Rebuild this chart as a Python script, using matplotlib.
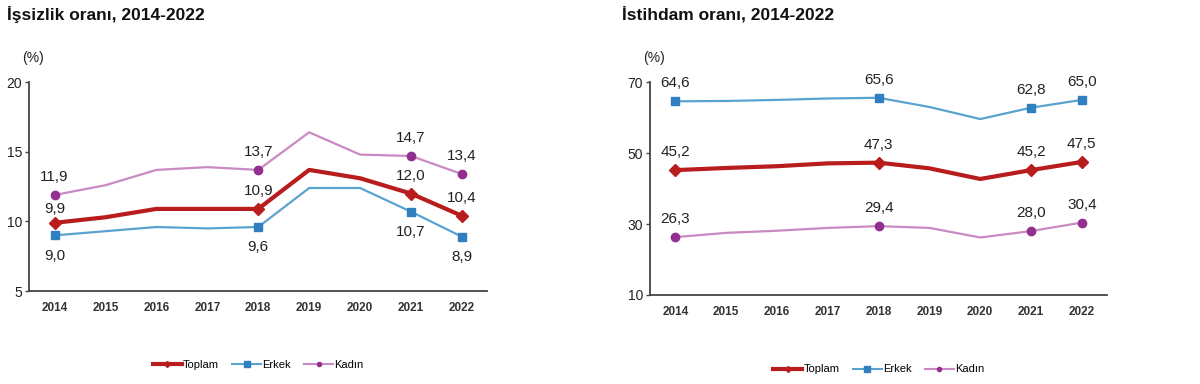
import numpy as np
import matplotlib
matplotlib.use("Agg")
import matplotlib.pyplot as plt

plt.rcParams['font.family'] = ['Liberation Sans', 'DejaVu Sans']

years = ['2014', '2015', '2016', '2017', '2018', '2019', '2020', '2021', '2022']

# Issizlik orani (%)
u_toplam = [9.9, 10.3, 10.9, 10.9, 10.9, 13.7, 13.1, 12.0, 10.4]
u_erkek = [9.0, 9.3, 9.6, 9.5, 9.6, 12.4, 12.4, 10.7, 8.9]
u_kadin = [11.9, 12.6, 13.7, 13.9, 13.7, 16.4, 14.8, 14.7, 13.4]

# Istihdam orani (%)
e_toplam = [45.2, 45.8, 46.3, 47.1, 47.3, 45.7, 42.7, 45.2, 47.5]
e_erkek = [64.6, 64.7, 65.0, 65.4, 65.6, 63.0, 59.6, 62.8, 65.0]
e_kadin = [26.3, 27.5, 28.1, 28.9, 29.4, 28.9, 26.2, 28.0, 30.4]

labelled = [0, 4, 7, 8]

col_toplam = '#B81C1C'
col_erkek_line = '#5BA3CF'
col_erkek_mk = '#2F7FC1'
col_kadin_line = '#C98AC4'
col_kadin_mk = '#93308F'
txt_col = '#222222'


def fmt(v):
    return f'{v:.1f}'.replace('.', ',')


def put(ax, xi, v, dy):
    ax.annotate(fmt(v), (xi, v), xytext=(0, dy), textcoords='offset points',
                ha='center', va='center', fontsize=11, color=txt_col)


def draw(ax, toplam, erkek, kadin, ylim, yticks, below_erkek, title, title_x, first_toplam_dy):
    x = np.arange(len(years))
    ax.plot(x, kadin, color=col_kadin_line, lw=1.6, zorder=2)
    ax.plot(x, erkek, color=col_erkek_line, lw=1.6, zorder=2)
    ax.plot(x, toplam, color=col_toplam, lw=3, zorder=3)
    ax.plot(x[labelled], np.array(kadin)[labelled], 'o', color=col_kadin_mk, ms=6, zorder=4)
    ax.plot(x[labelled], np.array(erkek)[labelled], 's', color=col_erkek_mk, ms=6, zorder=4)
    ax.plot(x[labelled], np.array(toplam)[labelled], 'D', color=col_toplam, ms=6, zorder=5)
    for i in labelled:
        put(ax, x[i], kadin[i], 13)
        put(ax, x[i], toplam[i], first_toplam_dy if i == 0 else 13)
        put(ax, x[i], erkek[i], -14.5 if below_erkek else 13)
    ax.set_xlim(-0.5, len(years) - 0.5)
    ax.set_ylim(*ylim)
    ax.set_yticks(yticks)
    ax.set_xticks(x)
    ax.set_xticklabels(years, fontweight='bold', fontsize=8.5, color='#333333')
    ax.tick_params(axis='x', length=0, pad=8)
    ax.tick_params(axis='y', length=3, width=1, labelsize=10, color='#444444', labelcolor=txt_col, pad=2)
    for s in ['top', 'right']:
        ax.spines[s].set_visible(False)
    for s in ['left', 'bottom']:
        ax.spines[s].set_color('#444444')
        ax.spines[s].set_linewidth(1.3)
    ax.text(-0.016, 1.08, '(%)', transform=ax.transAxes, fontsize=10, color=txt_col, ha='left', va='bottom')
    fig.text(title_x, 0.962, title, fontsize=12.5, fontweight='bold', color='#111111', ha='left', va='center')
    h1, = ax.plot([], [], color=col_toplam, lw=3, marker='D', ms=3, label='Toplam')
    h2, = ax.plot([], [], color=col_erkek_line, lw=1.5, marker='s', ms=4, mfc=col_erkek_mk, mec=col_erkek_mk, label='Erkek')
    h3, = ax.plot([], [], color=col_kadin_line, lw=1.5, marker='o', ms=3, mfc=col_kadin_mk, mec=col_kadin_mk, label='Kadın')
    ax.legend(handles=[h1, h2, h3], loc='upper center', bbox_to_anchor=(0.5, -0.28), ncol=3,
              frameon=False, fontsize=8, handlelength=2.6, handletextpad=0.1, columnspacing=1.2)


fig = plt.figure(figsize=(12, 3.84), dpi=100)
ax1 = fig.add_axes([0.0242, 0.242, 0.382, 0.544])
ax2 = fig.add_axes([0.5417, 0.232, 0.381, 0.554])

draw(ax1, u_toplam, u_erkek, u_kadin, (5, 20), [5, 10, 15, 20], True,
     'İşsizlik oranı, 2014-2022', 0.006, 10)
draw(ax2, e_toplam, e_erkek, e_kadin, (10, 70), [10, 30, 50, 70], False,
     'İstihdam oranı, 2014-2022', 0.518, 13)

fig.savefig('out.png', dpi=100, facecolor='white')
